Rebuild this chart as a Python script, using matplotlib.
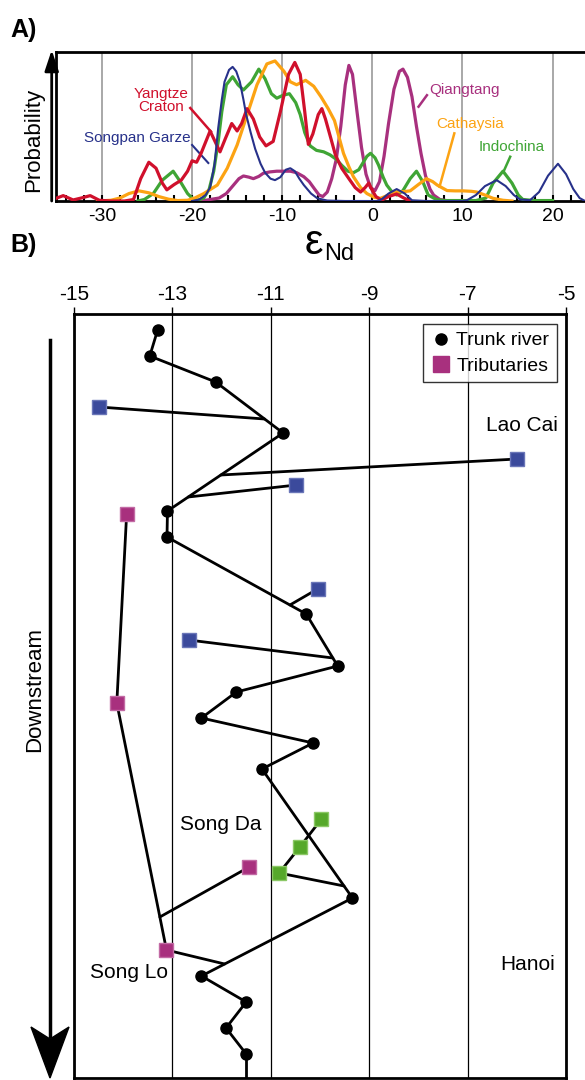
"""Nd isotope figure: source probability curves (A) and river profile (B)."""

import matplotlib
import numpy as np

matplotlib.use("Agg")
import matplotlib.pyplot as plt
from matplotlib.lines import Line2D
from matplotlib.patches import Polygon
from matplotlib.ticker import MultipleLocator

plt.rcParams["font.family"] = ["Liberation Sans", "DejaVu Sans"]
plt.rcParams["axes.unicode_minus"] = False

# ---------------- panel A: probability curves (eps, relative height) ----
red_x = [-35.0, -34.3, -33.2, -32.3, -31.3, -30.3, -29.0, -27.5, -26.5, -25.7, -24.8, -24.0,
         -23.3, -22.8, -22.0, -21.2, -20.5, -20.0, -19.5, -19.0, -18.0, -17.3, -16.9, -16.3,
         -15.6, -15.0, -14.5, -13.9, -13.2, -12.5, -11.8, -11.0, -10.2, -9.3, -8.6, -8.0,
         -7.5, -7.1, -6.6, -6.0, -5.6, -5.2, -4.6, -4.1, -3.4, -2.6, -1.9, -1.3, -0.8, -0.4,
         0.0, 0.4, 1.0, 1.8, 2.7, 3.5, 4.2]
red_y = [0.02, 0.036, 0.007, 0.02, 0.036, 0.005, 0.0, 0.0, 0.01, 0.15, 0.26, 0.22,
         0.12, 0.075, 0.11, 0.14, 0.2, 0.27, 0.26, 0.32, 0.47, 0.38, 0.33, 0.42,
         0.52, 0.47, 0.52, 0.62, 0.55, 0.43, 0.37, 0.40, 0.60, 0.85, 0.93, 0.85,
         0.60, 0.38, 0.45, 0.58, 0.62, 0.55, 0.42, 0.31, 0.22, 0.15, 0.09, 0.06, 0.09, 0.12,
         0.07, 0.03, 0.005, 0.03, 0.047, 0.02, 0.0]

blue_x = [-20.0, -19.2, -18.5, -18.0, -17.5, -17.1, -16.7, -16.4, -15.9, -15.5, -15.1, -14.7,
          -14.3, -14.0, -13.5, -13.0, -12.4, -11.9, -11.3, -10.8, -10.2, -9.6, -9.1, -8.6,
          -8.1, -7.6, -6.8, -6.1, -5.0, -3.0, 0.5, 1.0, 1.8, 2.7, 3.6, 4.4, 6.0, 10.0, 10.5,
          11.5, 12.5, 13.8, 14.8, 15.7, 16.4, 17.5, 18.5, 19.5, 20.6, 21.5, 22.3, 23.0, 23.6]
blue_y = [0.0, 0.01, 0.04, 0.09, 0.25, 0.49, 0.68, 0.80, 0.88, 0.90, 0.87, 0.80,
          0.68, 0.58, 0.46, 0.35, 0.25, 0.19, 0.15, 0.14, 0.16, 0.21, 0.22, 0.20,
          0.15, 0.107, 0.05, 0.018, 0.003, 0.0, 0.0, 0.01, 0.05, 0.08, 0.05, 0.005, 0.0, 0.0, 0.005,
          0.04, 0.10, 0.14, 0.10, 0.04, 0.01, 0.005, 0.06, 0.17, 0.25, 0.18, 0.08, 0.02, 0.0]

green_x = [-26.0, -25.3, -24.3, -23.3, -22.1, -21.2, -20.5, -20.0, -19.4, -18.7, -18.1, -17.6,
           -17.1, -16.7, -16.2, -15.5, -14.9, -14.3, -13.4, -12.6, -11.9, -11.2, -10.6, -9.9,
           -9.2, -8.5, -8.0, -7.5, -6.9, -6.2, -5.4, -4.7, -4.0, -3.4, -2.7, -2.1, -1.5, -1.1,
           -0.6, -0.2, 0.3, 0.7, 1.2, 1.6, 2.2, 2.7, 3.4, 4.2, 4.9, 5.6, 6.2, 7.1, 8.0, 11.5,
           12.6, 13.4, 14.5, 15.5, 16.2, 16.7, 18.0, 20.0]
green_y = [0.0, 0.01, 0.05, 0.14, 0.20, 0.12, 0.05, 0.02, 0.005, 0.02, 0.08, 0.20,
           0.40, 0.60, 0.78, 0.834, 0.78, 0.745, 0.80, 0.885, 0.82, 0.72, 0.69, 0.71,
           0.72, 0.66, 0.58, 0.46, 0.37, 0.34, 0.33, 0.31, 0.28, 0.24, 0.20, 0.19, 0.21, 0.25,
           0.30, 0.32, 0.29, 0.24, 0.16, 0.107, 0.06, 0.04, 0.07, 0.15, 0.20, 0.13, 0.04, 0.01, 0.003, 0.003,
           0.02, 0.12, 0.20, 0.12, 0.04, 0.01, 0.003, 0.003]

orange_x = [-30.5, -29.0, -28.0, -27.0, -25.9, -24.8, -23.7, -22.6, -21.6, -20.5, -19.7, -18.7,
            -17.2, -16.1, -15.0, -13.9, -12.8, -11.7, -10.8, -9.8, -9.1, -8.4, -7.4, -6.5,
            -5.7, -4.9, -4.2, -3.7, -3.2, -2.6, -2.1, -1.3, -0.6, 0.2, 0.9, 1.8, 2.7, 3.5,
            4.2, 5.1, 6.0, 6.7, 7.2, 8.3, 9.2, 10.1, 11.0, 11.6, 12.5, 13.4, 14.5, 15.5]
orange_y = [0.0, 0.005, 0.02, 0.05, 0.068, 0.055, 0.03, 0.012, 0.003, 0.005, 0.02, 0.05,
            0.107, 0.22, 0.376, 0.577, 0.78, 0.92, 0.94, 0.87, 0.80, 0.78, 0.81, 0.77,
            0.70, 0.62, 0.54, 0.43, 0.32, 0.23, 0.163, 0.09, 0.05, 0.025, 0.018, 0.04, 0.062, 0.063,
            0.068, 0.11, 0.15, 0.13, 0.107, 0.07, 0.068, 0.068, 0.065, 0.06, 0.04, 0.018, 0.005, 0.0]

purple_x = [-19.0, -18.0, -17.0, -16.2, -15.4, -14.8, -14.3, -13.7, -13.2, -12.6, -12.1, -11.4,
            -10.6, -9.8, -9.1, -8.4, -7.6, -7.0, -6.4, -5.9, -5.5, -5.0, -4.5, -4.0, -3.5,
            -3.0, -2.6, -2.2, -1.7, -1.2, -0.7, -0.2, 0.3, 0.8, 1.3, 1.8, 2.4, 3.0, 3.4, 3.9,
            4.4, 4.9, 5.4, 5.9, 6.4, 6.8, 7.5, 8.5]
purple_y = [0.0, 0.01, 0.02, 0.05, 0.107, 0.15, 0.168, 0.16, 0.15, 0.165, 0.186, 0.195,
            0.20, 0.20, 0.20, 0.19, 0.163, 0.13, 0.08, 0.04, 0.03, 0.06, 0.15, 0.28, 0.50,
            0.78, 0.91, 0.85, 0.60, 0.36, 0.18, 0.09, 0.07, 0.13, 0.30, 0.52, 0.75, 0.87, 0.885, 0.83,
            0.70, 0.50, 0.32, 0.17, 0.08, 0.04, 0.01, 0.0]

# ---------------- panel B: river profile (eps, downstream position) ----
trunk_eps = [-13.30, -13.46, -12.12, -10.75, -13.10, -13.11, -10.28, -9.64, -11.70, -12.41,
             -10.14, -11.18, -9.34, -12.41, -11.50, -11.91, -11.50]
trunk_pos = [1.6, 4.2, 6.8, 11.9, 19.7, 22.3, 30.0, 35.2, 37.8, 40.4,
             42.9, 45.5, 58.4, 66.2, 68.8, 71.4, 74.0]

blue_trib_eps = [-14.49, -5.99, -10.48, -10.05, -12.67]
blue_trib_pos = [9.3, 14.5, 17.1, 27.5, 32.6]
blue_join_pos = [10.5, 16.1, 18.3, 29.1, 34.4]

songlo_eps = [-13.93, -14.13, -13.12]
songlo_pos = [20.0, 38.9, 63.6]
songlo_join_pos = 65.0

side_trib_eps = [-11.44]          # joins the Song Lo branch
side_trib_pos = [55.3]
side_join_pos = 60.3

songda_eps = [-9.97, -10.41, -10.83]
songda_pos = [50.5, 53.3, 55.9]
songda_join_pos = 57.2

RED, BLUE, GREEN, ORANGE, PURPLE = "#d0102c", "#27318a", "#3fa535", "#fca313", "#a8307e"
SQ_BLUE, SQ_MAG, SQ_GREEN = "#3b4a9c", "#a8307e", "#56a82a"

fig = plt.figure(figsize=(5.85, 10.8), dpi=100)

# ---------------- A ----------------
axA = fig.add_axes([56 / 585, 1 - 201 / 1080, 1 - 56 / 585, 149 / 1080])
axA.plot(purple_x, purple_y, color=PURPLE, lw=2.3, zorder=3)
axA.plot(orange_x, orange_y, color=ORANGE, lw=2.3, zorder=4)
axA.plot(green_x, green_y, color=GREEN, lw=2.3, zorder=3)
axA.plot(red_x, red_y, color=RED, lw=2.3, zorder=5)
axA.plot(blue_x, blue_y, color=BLUE, lw=1.5, zorder=6)
axA.set_xlim(-35.1, 23.6)
axA.set_ylim(0, 1.0)
axA.xaxis.set_major_locator(MultipleLocator(10))
axA.xaxis.set_minor_locator(MultipleLocator(2))
axA.grid(axis="x", color="#9a9a9a", lw=1.2, zorder=0)
axA.set_yticks([])
axA.tick_params(axis="x", which="both", direction="in", length=4, width=1.5,
                labelsize=14, pad=5)
for s in ("top", "bottom", "left"):
    axA.spines[s].set_linewidth(2.0)
axA.spines["right"].set_visible(False)

label_kw = dict(fontsize=11, ha="center", va="center", zorder=8)
axA.text(-23.4, 0.675, "Yangtze\nCraton", color=RED, linespacing=0.95, **label_kw)
axA.plot([-20.2, -17.9], [0.624, 0.465], color=RED, lw=1.8)
axA.text(-26.1, 0.42, "Songpan Garze", color=BLUE, **label_kw)
axA.plot([-20.0, -18.2], [0.376, 0.255], color=BLUE, lw=1.5)
axA.text(10.2, 0.745, "Qiangtang", color=PURPLE, **label_kw)
axA.plot([6.06, 5.13], [0.71, 0.633], color=PURPLE, lw=1.8)
axA.text(10.9, 0.52, "Cathaysia", color=ORANGE, **label_kw)
axA.plot([9.1, 7.46], [0.454, 0.096], color=ORANGE, lw=1.8)
axA.text(15.5, 0.36, "Indochina", color=GREEN, **label_kw)
axA.plot([15.3, 14.56], [0.297, 0.197], color=GREEN, lw=1.8)

fig.text(34 / 585, 1 - 140 / 1080, "Probability", rotation=90, fontsize=16,
         ha="center", va="center")
axA.annotate("", xy=(51.7, 1080 - 50), xytext=(51.7, 1080 - 201),
             xycoords="figure pixels", textcoords="figure pixels",
             arrowprops=dict(arrowstyle="-|>,head_length=0.9,head_width=0.3",
                             lw=2, color="black", mutation_scale=14,
                             shrinkA=0, shrinkB=0))

fig.text(10 / 585, 1 - 30 / 1080, "A)", fontsize=18, fontweight="bold", va="center")
fig.text(10 / 585, 1 - 245 / 1080, "B)", fontsize=18, fontweight="bold", va="center")
fig.text(323 / 585, 1 - 243 / 1080, "ε", fontsize=30, ha="right", va="center")
fig.text(324 / 585, 1 - 254 / 1080, "Nd", fontsize=17, ha="left", va="center")

# ---------------- B ----------------
axB = fig.add_axes([74 / 585, 1 - 1078 / 1080, 492 / 585, 764 / 1080])
axB.set_xlim(-15, -5)
axB.set_ylim(76.4, 0)
axB.set_xticks(np.arange(-15, -4, 2))
axB.xaxis.tick_top()
axB.tick_params(axis="x", direction="out", length=5, width=1, labelsize=15, pad=2)
axB.set_yticks([])
axB.grid(axis="x", color="black", lw=0.9, zorder=0)
for s in axB.spines.values():
    s.set_linewidth(2.0)

line_kw = dict(color="black", lw=2.0, zorder=3, solid_capstyle="round")
sq_kw = dict(marker="s", ms=10, ls="none", zorder=6, mew=1)

# trunk
axB.plot(trunk_eps, trunk_pos, **line_kw)
axB.plot([trunk_eps[-1], trunk_eps[-1]], [trunk_pos[-1], 80], **line_kw)

# blue tributaries joining the trunk
for e, p, jp in zip(blue_trib_eps, blue_trib_pos, blue_join_pos):
    je = np.interp(jp, trunk_pos, trunk_eps)
    axB.plot([e, je], [p, jp], **line_kw)
axB.plot(blue_trib_eps, blue_trib_pos, color=SQ_BLUE, mec="#6a76b8", **sq_kw)

# Song Lo branch
sl_je = np.interp(songlo_join_pos, trunk_pos, trunk_eps)
axB.plot(songlo_eps + [sl_je], songlo_pos + [songlo_join_pos], **line_kw)
for e, p in zip(side_trib_eps, side_trib_pos):
    je = np.interp(side_join_pos, songlo_pos, songlo_eps)
    axB.plot([e, je], [p, side_join_pos], **line_kw)
axB.plot(songlo_eps + side_trib_eps, songlo_pos + side_trib_pos,
         color=SQ_MAG, mec="#c26aa4", **sq_kw)

# Song Da branch
sd_je = np.interp(songda_join_pos, trunk_pos, trunk_eps)
axB.plot(songda_eps + [sd_je], songda_pos + [songda_join_pos], **line_kw)
axB.plot(songda_eps, songda_pos, color=SQ_GREEN, mec="#8cc866", **sq_kw)

axB.plot(trunk_eps, trunk_pos, marker="o", ms=8, color="black", ls="none", zorder=7)

place_kw = dict(fontsize=15, ha="center", va="center")
axB.text(-5.89, 11.1, "Lao Cai", **place_kw)
axB.text(-12.01, 51.1, "Song Da", **place_kw)
axB.text(-13.89, 65.9, "Song Lo", **place_kw)
axB.text(-5.77, 65.1, "Hanoi", **place_kw)

handles = [
    Line2D([], [], marker="o", color="black", ls="none", ms=8, label="Trunk river"),
    Line2D([], [], marker="s", color=SQ_MAG, ls="none", ms=11, label="Tributaries"),
]
leg = axB.legend(handles=handles, loc="upper right", bbox_to_anchor=(0.982, 0.987),
                 borderaxespad=0, fontsize=14, frameon=True, fancybox=False,
                 handletextpad=0.3, handlelength=1.0, borderpad=0.4, labelspacing=0.4)
leg.get_frame().set_edgecolor("black")
leg.get_frame().set_linewidth(1.0)
leg.set_zorder(10)

# downstream arrow: shaft plus a notched head, drawn in figure pixels
fig.add_artist(Line2D([50, 50], [1080 - 340, 1080 - 1036], transform=None,
                      color="black", lw=2.5))
fig.add_artist(Polygon([[50, 1080 - 1078], [31, 1080 - 1027], [50, 1080 - 1039],
                        [69, 1080 - 1027]], closed=True, transform=None,
                       facecolor="black", edgecolor="black", lw=1))
fig.text(35 / 585, 1 - 690 / 1080, "Downstream", rotation=90, fontsize=16,
         ha="center", va="center")

fig.savefig("out.png", dpi=100)
